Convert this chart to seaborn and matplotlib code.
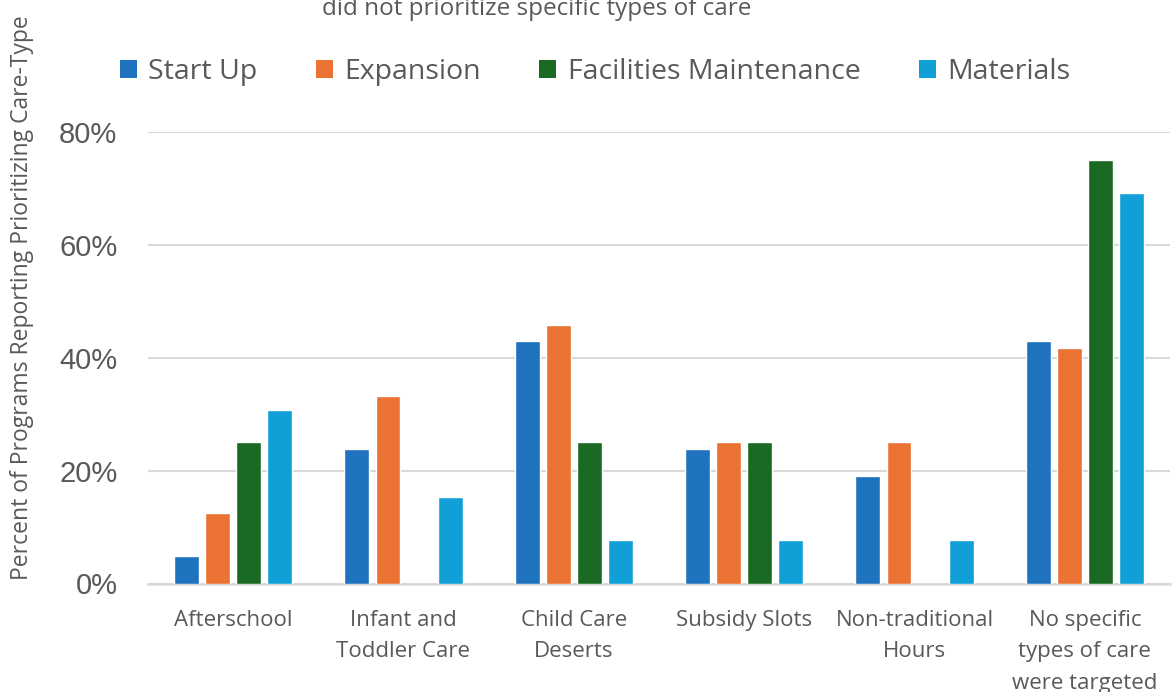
import matplotlib
matplotlib.use("Agg")
import matplotlib.pyplot as plt
from matplotlib.patches import Patch
from matplotlib.ticker import FuncFormatter
import seaborn as sns
import pandas as pd

categories = [
    "Afterschool",
    "Infant and\nToddler Care",
    "Child Care\nDeserts",
    "Subsidy Slots",
    "Non-traditional\nHours",
    "No specific\ntypes of care\nwere targeted",
]
series = ["Start Up", "Expansion", "Facilities Maintenance", "Materials"]
start_up = [4.8, 23.8, 42.9, 23.8, 19.0, 42.9]
expansion = [12.5, 33.3, 45.8, 25.0, 25.0, 41.7]
facilities = [25.0, 0.0, 25.0, 25.0, 0.0, 75.0]
materials = [30.8, 15.4, 7.7, 7.7, 7.7, 69.2]
colors = ["#1f72bd", "#ea7233", "#1b6a23", "#119fd7"]

values = [start_up, expansion, facilities, materials]
df = pd.DataFrame(
    [(c, s, v[i]) for s, v in zip(series, values) for i, c in enumerate(categories)],
    columns=["category", "series", "value"],
)

sns.set_theme(style="white")
text_color = "#595959"
grid_color = "#d9d9d9"
plt.rcParams["font.family"] = ["Open Sans", "DejaVu Sans"]

W, H = 1174, 692
fig = plt.figure(figsize=(W / 100, H / 100), dpi=100)
ax = fig.add_axes([148 / W, (H - 583.5) / H, (1170 - 148) / W, (583.5 - 132) / H])

sns.barplot(
    data=df, x="category", y="value", hue="series", order=categories,
    hue_order=series, palette=colors, width=0.73, gap=0.2,
    edgecolor="white", linewidth=1, saturation=1, legend=False, ax=ax, zorder=3,
)

ax.set_ylim(0, 80)
ax.set_xlim(-0.5, len(categories) - 0.5)
ax.set_yticks([0, 20, 40, 60, 80])
ax.yaxis.set_major_formatter(FuncFormatter(lambda v, p: f"{v:.0f}%"))
ax.grid(axis="y", color=grid_color, linewidth=1.5, zorder=0)
ax.set_axisbelow(True)
for side in ["top", "right", "left"]:
    ax.spines[side].set_visible(False)
ax.spines["bottom"].set_color(grid_color)
ax.spines["bottom"].set_linewidth(1.8)
ax.tick_params(axis="both", length=0)
ax.tick_params(axis="y", pad=22)
ax.tick_params(axis="x", pad=19)
for lbl in ax.get_yticklabels():
    lbl.set_fontfamily("Liberation Sans")
    lbl.set_fontsize(21)
    lbl.set_color(text_color)
for lbl in ax.get_xticklabels():
    lbl.set_fontsize(16)
    lbl.set_color(text_color)
    lbl.set_linespacing(1.65)
ax.set_xlabel("")
ax.set_ylabel("")

fig.text(22 / W, (H - 298) / H, "Percent of Programs Reporting Prioritizing Care-Type",
         rotation=90, ha="center", va="center", fontsize=16.5, color=text_color)

fig.text(537 / W, 1 - 15 / H, "did not prioritize specific types of care",
         ha="center", va="baseline", fontsize=17.5, color=text_color)

handles = [Patch(facecolor=c, edgecolor="none") for c in colors]
fig.legend(
    handles, series, loc="center", bbox_to_anchor=(595 / W, 1 - 72 / H), ncol=4,
    frameon=False, fontsize=20.5, handlelength=0.6, handleheight=0.6,
    handletextpad=0.4, columnspacing=2.05, labelcolor=text_color,
)

fig.savefig("out.png", dpi=100)
